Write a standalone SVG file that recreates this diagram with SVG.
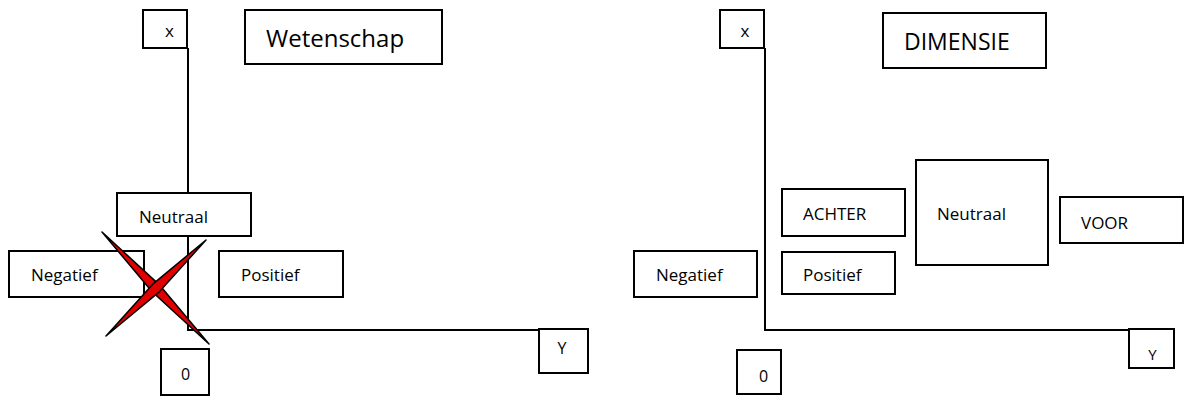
<svg xmlns="http://www.w3.org/2000/svg" width="1195" height="409" viewBox="0 0 1195 409">
<style>
.box{fill:#fff;stroke:#000;stroke-width:2}
.ax{fill:none;stroke:#000;stroke-width:2}
text{font-family:"Open Sans","DejaVu Sans",sans-serif;fill:#000}
.t{font-size:17px}
.s{font-size:16px;text-anchor:middle}
.cross{fill:#e00000;stroke:#000;stroke-width:1.5;stroke-linejoin:round}
</style>
<rect width="1195" height="409" fill="#fff"/>
<g id="connectors">
<polyline class="ax" points="188,48 188,330 539,330"/>
<polyline class="ax" points="765,48 765,330 1129,330"/>
</g>
<g id="left-x"><rect class="box" x="143" y="10" width="44" height="38"/><text class="s" x="169.5" y="37" style="font-size:17px">x</text></g>
<g id="wetenschap"><rect class="box" x="245" y="10" width="197" height="54"/><text x="266" y="47" font-size="24">Wetenschap</text></g>
<g id="left-neutraal"><rect class="box" x="117" y="193" width="134" height="43"/><text class="t" x="139" y="223">Neutraal</text></g>
<g id="left-negatief"><rect class="box" x="9" y="251" width="135" height="46"/><text class="t" x="31" y="281">Negatief</text></g>
<g id="left-positief"><rect class="box" x="219" y="251" width="124" height="46"/><text class="t" x="241" y="281">Positief</text></g>
<g id="left-zero"><rect class="box" x="161" y="349" width="48" height="46"/><text class="s" x="185.5" y="380">0</text></g>
<g id="left-y"><rect class="box" x="539" y="329" width="49" height="44"/><text class="s" x="562" y="354">Y</text></g>
<g id="cross">
<polygon class="cross" points="102,232 151.9,291.5 209,344 159.1,284.6"/>
<polygon class="cross" points="106,336 159.5,291.6 206,240 152.5,284.4"/>
</g>
<g id="right-x"><rect class="box" x="720" y="10" width="44" height="38"/><text class="s" x="745" y="37" style="font-size:17px">x</text></g>
<g id="dimensie"><rect class="box" x="883" y="13" width="163" height="55"/><text x="904" y="50" font-size="23">DIMENSIE</text></g>
<g id="right-negatief"><rect class="box" x="634" y="251" width="123" height="46"/><text class="t" x="656" y="281">Negatief</text></g>
<g id="achter"><rect class="box" x="782" y="189" width="123" height="47"/><text class="t" x="803" y="220">ACHTER</text></g>
<g id="right-positief"><rect class="box" x="782" y="252" width="113" height="42"/><text class="t" x="803" y="281">Positief</text></g>
<g id="right-neutraal"><rect class="box" x="916" y="160" width="132" height="105"/><text class="t" x="937" y="220">Neutraal</text></g>
<g id="voor"><rect class="box" x="1060" y="197" width="123" height="46"/><text class="t" x="1081" y="229">VOOR</text></g>
<g id="right-zero"><rect class="box" x="737" y="350" width="44" height="44"/><text class="s" x="763.5" y="382">0</text></g>
<g id="right-y"><rect class="box" x="1129" y="329" width="45" height="39"/><text class="s" x="1152.5" y="360" style="font-size:15px">Y</text></g>
</svg>
